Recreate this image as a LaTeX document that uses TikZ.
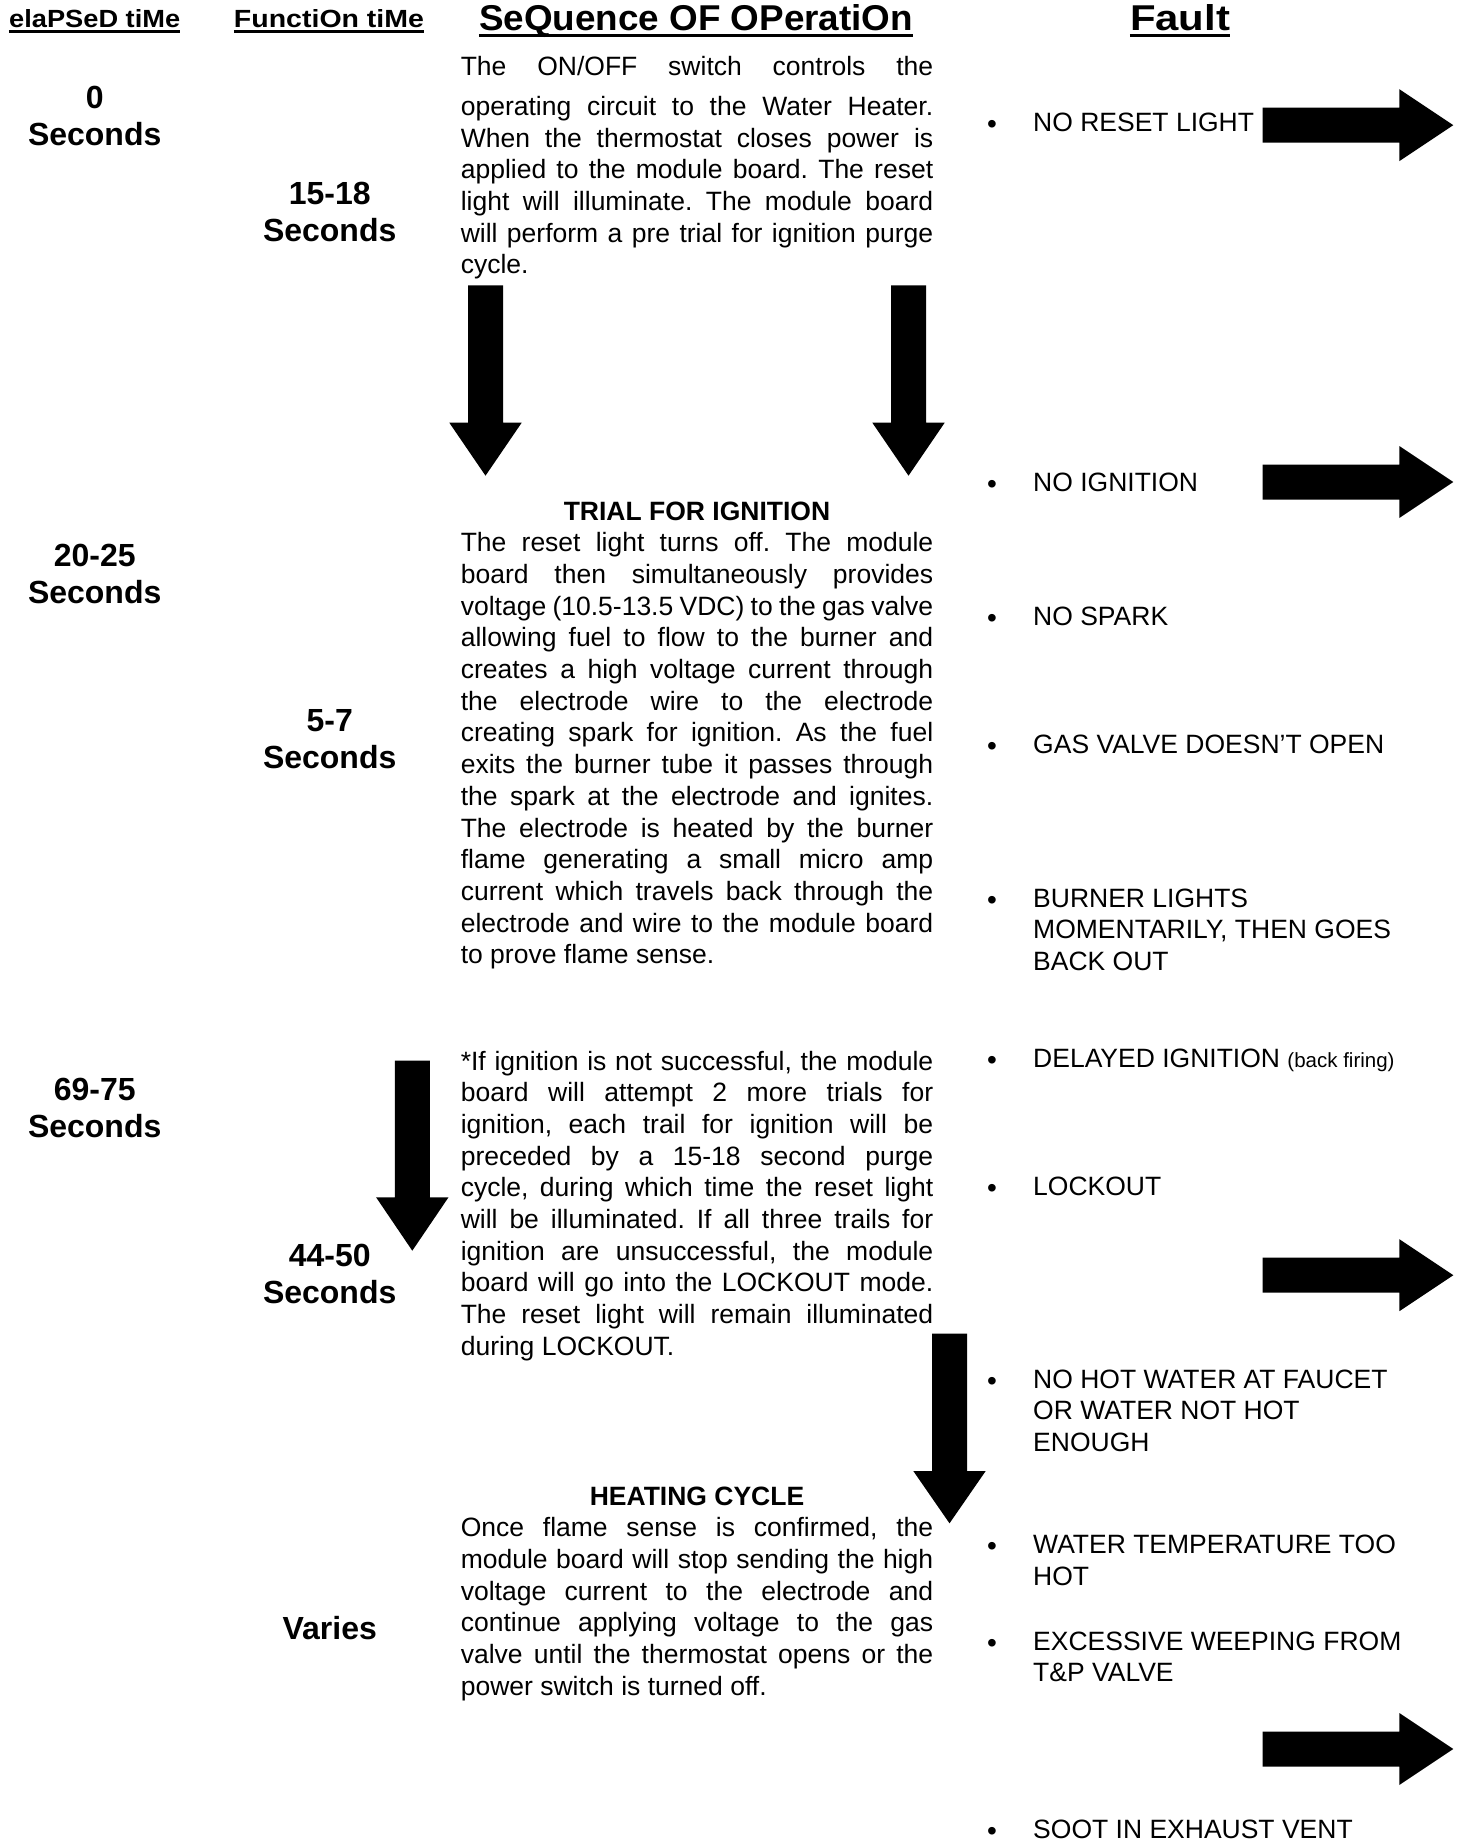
\documentclass[tikz,border=0pt]{standalone}
\usepackage{fontspec}
\usepackage{graphicx}
\setmainfont{Liberation Sans}
\frenchspacing
\newcommand\JLine[1]{\hbox to\hsize{\spaceskip=.278em plus 1fil minus .09em\relax #1}}
\newcommand\LLine[1]{\hbox{#1}}
\newcommand\CLine[1]{\hbox to\hsize{\hfil\bfseries #1\hfil}}
\newcommand\Two[2]{\vtop{\hsize=200pt\hbox to\hsize{\hfil #1\hfil}\hbox to\hsize{\hfil #2\hfil}}}
\tikzset{
  hdr/.style={anchor=base, inner sep=0pt, font=\bfseries},
  uline/.style={line width=3pt},
  body/.style={anchor=base west, inner sep=0pt, font=\fontsize{26.5}{31.7}\selectfont\frenchspacing},
  timelabel/.style={anchor=base, inner sep=0pt, font=\fontsize{32}{37}\selectfont\bfseries},
  fault/.style={anchor=base west, inner sep=0pt, font=\fontsize{26.5}{31.7}\selectfont},
  bul/.style={anchor=base, inner sep=0pt, yshift=-2pt, font=\fontsize{28}{32}\selectfont},
  blockarrow/.style={fill=black}
}
\begin{document}
\begin{tikzpicture}[x=1pt,y=-1pt]
\useasboundingbox (0,0) rectangle (1463,1843);

% headers
\node[hdr] (h1) at (94.7,27.5) {\resizebox{171pt}{18pt}{elaPSeD tiMe}};
\node[hdr] (h2) at (329,27.5) {\resizebox{190pt}{18pt}{FunctiOn tiMe}};
\node[hdr] (h3) at (696,30.5) {\resizebox{434pt}{26pt}{SeQuence OF OPeratiOn}};
\node[hdr] (h4) at (1180,30.5) {\resizebox{100pt}{26pt}{Fault}};
\draw[uline] ([yshift=-4pt]h1.base west) -- ([yshift=-4pt]h1.base east);
\draw[uline] ([yshift=-4pt]h2.base west) -- ([yshift=-4pt]h2.base east);
\draw[uline,line width=3.5pt] ([yshift=-5pt]h3.base west) -- ([yshift=-5pt]h3.base east);
\draw[uline,line width=3.5pt] ([yshift=-5pt]h4.base west) -- ([yshift=-5pt]h4.base east);

% time labels
\node[timelabel] (t0) at (94.7,109) {\Two{0}{Seconds}};
\node[timelabel] (t1) at (329.7,205) {\Two{15-18}{Seconds}};
\node[timelabel] (t2) at (94.7,566.5) {\Two{20-25}{Seconds}};
\node[timelabel] (t3) at (329.7,731) {\Two{5-7}{Seconds}};
\node[timelabel] (t4) at (94.7,1100) {\Two{69-75}{Seconds}};
\node[timelabel] (t5) at (329.7,1266) {\Two{44-50}{Seconds}};
\node[timelabel] (t6) at (329.7,1639) {Varies};

% sequence paragraphs
\node[body] (p1) at (460.6,76) {\vtop{\hsize=472.4pt
\JLine{The ON/OFF switch controls the}
\vskip 7.8pt
\JLine{operating circuit to the Water Heater.}
\JLine{When the thermostat closes power is}
\JLine{applied to the module board. The reset}
\JLine{light will illuminate. The module board}
\JLine{will perform a pre trial for ignition purge}
\LLine{cycle.}}};

\node[body] (p2) at (460.6,520) {\vtop{\hsize=472.4pt
\CLine{TRIAL FOR IGNITION}
\JLine{The reset light turns off. The module}
\JLine{board then simultaneously provides}
\JLine{voltage (10.5-13.5 VDC) to the gas valve}
\JLine{allowing fuel to flow to the burner and}
\JLine{creates a high voltage current through}
\JLine{the electrode wire to the electrode}
\JLine{creating spark for ignition. As the fuel}
\JLine{exits the burner tube it passes through}
\JLine{the spark at the electrode and ignites.}
\JLine{The electrode is heated by the burner}
\JLine{flame generating a small micro amp}
\JLine{current which travels back through the}
\JLine{electrode and wire to the module board}
\LLine{to prove flame sense.}}};

\node[body] (p3) at (460.6,1070) {\vtop{\hsize=472.4pt
\JLine{*If ignition is not successful, the module}
\JLine{board will attempt 2 more trials for}
\JLine{ignition, each trail for ignition will be}
\JLine{preceded by a 15-18 second purge}
\JLine{cycle, during which time the reset light}
\JLine{will be illuminated. If all three trails for}
\JLine{ignition are unsuccessful, the module}
\JLine{board will go into the LOCKOUT mode.}
\JLine{The reset light will remain illuminated}
\LLine{during LOCKOUT.}}};

\node[body] (p4) at (460.6,1505) {\vtop{\hsize=472.4pt
\CLine{HEATING CYCLE}
\JLine{Once flame sense is confirmed, the}
\JLine{module board will stop sending the high}
\JLine{voltage current to the electrode and}
\JLine{continue applying voltage to the gas}
\JLine{valve until the thermostat opens or the}
\LLine{power switch is turned off.}}};

% faults
\node[bul] (b1) at (992,131.5) {•};
\node[fault] (f1) at (1033,131.5) {NO RESET LIGHT};
\node[bul] (b2) at (992,491.5) {•};
\node[fault] (f2) at (1033,491.5) {NO IGNITION};
\node[bul] (b3) at (992,625) {•};
\node[fault] (f3) at (1033,625) {NO SPARK};
\node[bul] (b4) at (992,753) {•};
\node[fault] (f4) at (1033,753) {GAS VALVE DOESN’T OPEN};
\node[bul] (b5) at (992,907) {•};
\node[fault] (f5) at (1033,907) {\vtop{\LLine{BURNER LIGHTS}\LLine{MOMENTARILY, THEN GOES}\LLine{BACK OUT}}};
\node[bul] (b6) at (992,1067) {•};
\node[fault] (f6) at (1033,1067) {DELAYED IGNITION {\fontsize{20.5}{24}\selectfont(back firing)}};
\node[bul] (b7) at (992,1195) {•};
\node[fault] (f7) at (1033,1195) {LOCKOUT};
\node[bul] (b8) at (992,1388) {•};
\node[fault] (f8) at (1033,1388) {\vtop{\LLine{NO HOT WATER AT FAUCET}\LLine{OR WATER NOT HOT}\LLine{ENOUGH}}};
\node[bul] (b9) at (992,1553.3) {•};
\node[fault] (f9) at (1033,1553.3) {\vtop{\LLine{WATER TEMPERATURE TOO}\LLine{HOT}}};
\node[bul] (b10) at (992,1650) {•};
\node[fault] (f10) at (1033,1650) {\vtop{\LLine{EXCESSIVE WEEPING FROM}\LLine{T\&P VALVE}}};
\node[bul] (b11) at (992,1838.3) {•};
\node[fault] (f11) at (1033,1838.3) {SOOT IN EXHAUST VENT};

% down block arrows
\fill[blockarrow] (468,285.5) -- (503,285.5) -- (503,422.7) -- (521.7,422.7) -- (485.5,475.7) -- (449.3,422.7) -- (468,422.7) -- cycle;
\fill[blockarrow] (891,285.5) -- (926,285.5) -- (926,422.7) -- (944.7,422.7) -- (908.5,475.7) -- (872.3,422.7) -- (891,422.7) -- cycle;
\fill[blockarrow] (394.8,1060.7) -- (429.8,1060.7) -- (429.8,1197.3) -- (448.5,1197.3) -- (412.3,1250.7) -- (376.1,1197.3) -- (394.8,1197.3) -- cycle;
\fill[blockarrow] (932,1333.6) -- (967,1333.6) -- (967,1471) -- (985.7,1471) -- (949.5,1523.3) -- (913.3,1471) -- (932,1471) -- cycle;

% right block arrows
\foreach \cy in {125.2,482,1275.2,1749}{
  \fill[blockarrow] (1262.7,\cy-17.5) -- (1399.3,\cy-17.5) -- (1399.3,\cy-36) -- (1453.3,\cy) -- (1399.3,\cy+36) -- (1399.3,\cy+17.5) -- (1262.7,\cy+17.5) -- cycle;
}
\end{tikzpicture}
\end{document}
